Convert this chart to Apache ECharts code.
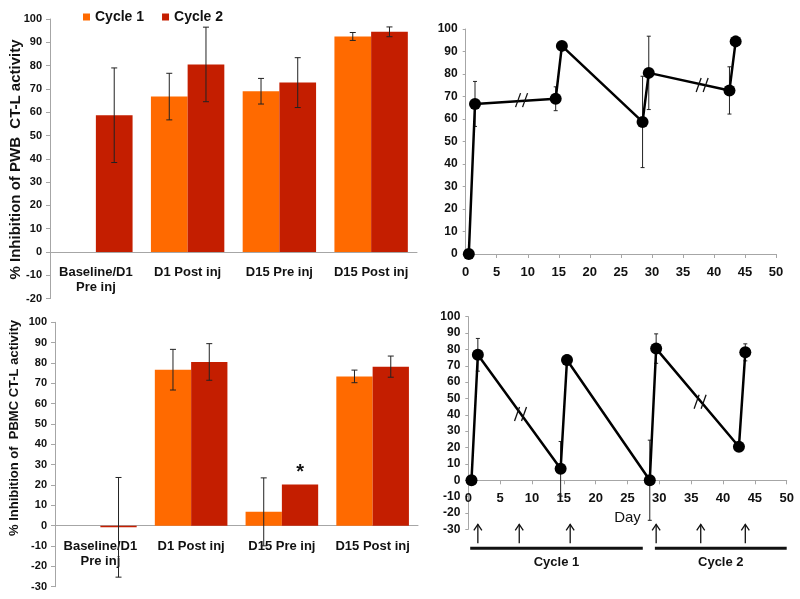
<!DOCTYPE html>
<html><head><meta charset="utf-8">
<script src="https://cdn.jsdelivr.net/npm/echarts@6/dist/echarts.min.js"></script>
<style>html,body{margin:0;padding:0;background:#fff}#c{width:800px;height:599px}</style>
</head><body><div id="c"></div>
<script>
// ---------- data ----------
const categories = ['Baseline/D1\nPre inj', 'D1 Post inj', 'D15 Pre inj', 'D15 Post inj'];
const seriesNames = ['Cycle 1', 'Cycle 2'];

const pwbCycle1 = [null, 66.7, 69.0, 92.5];
const pwbCycle1Err = [null, 10.0, 5.5, 1.7];
const pwbCycle2 = [58.7, 80.5, 72.7, 94.5];
const pwbCycle2Err = [20.3, 16.0, 10.7, 2.1];

const pbmcCycle1 = [null, 76.7, 6.8, 73.4];
const pbmcCycle1Err = [null, 10.0, 16.7, 3.1];
const pbmcCycle2 = [-0.8, 80.5, 20.3, 78.2];
const pbmcCycle2Err = [24.5, 9.0, null, 5.2];
const pbmcStarIndex = 2;

const pwbDays = [0.5, 1.5, 14.5, 15.5, 28.5, 29.5, 42.5, 43.5];
const pwbMeans = [0, 66.7, 69.0, 92.5, 58.7, 80.5, 72.7, 94.5];
const pwbErr = [null, 10.0, 5.3, 1.7, 20.3, 16.3, 10.5, 2.3];
const pwbBreaks = [[9.0, 68.4], [38.1, 75.1]];

const pbmcDays = [0.5, 1.5, 14.5, 15.5, 28.5, 29.5, 42.5, 43.5];
const pbmcMeans = [0, 76.7, 7.0, 73.5, 0, 80.5, 20.5, 78.2];
const pbmcErr = [null, 10.0, 16.7, 3.1, 24.5, 9.0, null, 5.2];
const pbmcBreaks = [[8.2, 40.5], [36.4, 48.0]];

const injectionDays = [1.5, 8, 16, 29.5, 36.5, 43.5];
const cycleNames = ['Cycle 1', 'Cycle 2'];
const cycleStart = [0.3, 29.3];
const cycleEnd = [27.4, 50];

const yTicksBarTop = { min: -20, max: 100, interval: 10 };
const yTicksBarBottom = { min: -30, max: 100, interval: 10 };
const yTicksLineTop = { min: 0, max: 100, interval: 10 };
const yTicksLineBottom = { min: -30, max: 100, interval: 10 };
const xTicksLine = { min: 0, max: 50, interval: 5 };

// ---------- styles ----------
const C1 = '#FF6A00', C2 = '#C41E00';
const FONT = 'Liberation Sans, Arial, sans-serif';
const axisGray = '#A6A6A6';

function barErrData(vals, errs, slot) {
  const out = [];
  vals.forEach((v, i) => { if (v != null && errs[i] != null) out.push([i, v, errs[i], slot]); });
  return out;
}
function barErrRender(params, api) {
  const idx = api.value(0), v = api.value(1), e = api.value(2), slot = api.value(3);
  const c = api.coord([idx, v]);
  const band = api.size([1, 0])[0];
  const bw = band * 0.8 / 2;
  const x = c[0] + (slot === 0 ? -bw / 2 : bw / 2);
  const yt = api.coord([idx, v + e])[1], yb = api.coord([idx, v - e])[1];
  const st = { stroke: '#222', lineWidth: 1 };
  return { type: 'group', children: [
    { type: 'line', shape: { x1: x, y1: yt, x2: x, y2: yb }, style: st },
    { type: 'line', shape: { x1: x - 3, y1: yt, x2: x + 3, y2: yt }, style: st },
    { type: 'line', shape: { x1: x - 3, y1: yb, x2: x + 3, y2: yb }, style: st }
  ]};
}
function lineErrData(days, vals, errs) {
  const out = [];
  days.forEach((d, i) => { if (errs[i] != null) out.push([d, vals[i], errs[i]]); });
  return out;
}
function lineErrRender(params, api) {
  const d = api.value(0), v = api.value(1), e = api.value(2);
  const x = api.coord([d, v])[0];
  const yt = api.coord([d, v + e])[1], yb = api.coord([d, v - e])[1];
  const st = { stroke: '#222', lineWidth: 1 };
  return { type: 'group', children: [
    { type: 'line', shape: { x1: x, y1: yt, x2: x, y2: yb }, style: st },
    { type: 'line', shape: { x1: x - 2, y1: yt, x2: x + 2, y2: yt }, style: st },
    { type: 'line', shape: { x1: x - 2, y1: yb, x2: x + 2, y2: yb }, style: st }
  ]};
}
function breakRender(params, api) {
  const c = api.coord([api.value(0), api.value(1)]);
  const st = { stroke: '#111', lineWidth: 1.3 };
  return { type: 'group', children: [
    { type: 'line', shape: { x1: c[0] - 6, y1: c[1] + 7, x2: c[0] - 1, y2: c[1] - 7 }, style: st },
    { type: 'line', shape: { x1: c[0] + 1, y1: c[1] + 7, x2: c[0] + 6, y2: c[1] - 7 }, style: st }
  ]};
}
function arrowRender(params, api) {
  const c = api.coord([api.value(0), -30]);
  const st = { stroke: '#111', lineWidth: 1.3, fill: null };
  const top = c[1] - 5, bot = c[1] + 14;
  return { type: 'group', children: [
    { type: 'line', shape: { x1: c[0], y1: top, x2: c[0], y2: bot }, style: st },
    { type: 'polyline', shape: { points: [[c[0] - 4, top + 6], [c[0], top], [c[0] + 4, top + 6]] }, style: st }
  ]};
}
function cycleRender(params, api) {
  const a = api.coord([api.value(0), -30]);
  const b = api.coord([api.value(1), -30]);
  const name = cycleNames[params.dataIndex];
  return { type: 'group', children: [
    { type: 'line', shape: { x1: a[0], y1: a[1] + 19, x2: b[0], y2: b[1] + 19 }, style: { stroke: '#111', lineWidth: 3 } },
    { type: 'text', style: { text: name, x: (a[0] + b[0]) / 2, y: a[1] + 33, textAlign: 'center', textVerticalAlign: 'middle', font: 'bold 13px ' + FONT, fill: '#111' } }
  ]};
}

const barLabel = { color: '#111', fontWeight: 'bold', fontSize: 13, fontFamily: FONT, margin: 13, lineHeight: 15, interval: 0 };
const yLabelSmall = { color: '#111', fontWeight: 'bold', fontSize: 11, fontFamily: FONT, margin: 8 };
const yLabelLine = { color: '#111', fontWeight: 'bold', fontSize: 12, fontFamily: FONT, margin: 8 };
const xLabelLine = { color: '#111', fontWeight: 'bold', fontSize: 13, fontFamily: FONT, margin: 12 };

const option = {
  animation: false,
  backgroundColor: '#fff',
  legend: {
    data: seriesNames, left: 78, top: 5, icon: 'rect', itemWidth: 7, itemHeight: 7, itemGap: 18,
    textStyle: { fontSize: 14, fontWeight: 'bold', fontFamily: FONT, color: '#111' }
  },
  graphic: [
    { type: 'text', x: 16, y: 159.5, rotation: Math.PI / 2, style: { text: '% Inhibition of PWB  CT-L activity', font: 'bold 15px ' + FONT, textAlign: 'center', textVerticalAlign: 'middle', fill: '#111' } },
    { type: 'text', x: 14, y: 428, rotation: Math.PI / 2, style: { text: '% Inhibition of  PBMC CT-L activity', font: 'bold 13px ' + FONT, textAlign: 'center', textVerticalAlign: 'middle', fill: '#111' } }
  ],
  grid: [
    { left: 50, top: 19, width: 367, height: 279.6 },
    { left: 465.7, top: 29, width: 310.3, height: 225 },
    { left: 55, top: 322.3, width: 363, height: 264.4 },
    { left: 468.3, top: 316.7, width: 318.4, height: 212.6 }
  ],
  xAxis: [
    { gridIndex: 0, type: 'category', data: categories, axisLine: { onZero: false, lineStyle: { color: axisGray } }, offset: -46.6, axisTick: { show: false }, axisLabel: barLabel },
    { gridIndex: 1, type: 'value', min: xTicksLine.min, max: xTicksLine.max, interval: xTicksLine.interval, axisLine: { lineStyle: { color: axisGray } }, axisTick: { show: true, length: 4, lineStyle: { color: axisGray } }, splitLine: { show: false }, axisLabel: xLabelLine },
    { gridIndex: 2, type: 'category', data: categories, axisLine: { onZero: false, lineStyle: { color: axisGray } }, offset: -61, axisTick: { show: false }, axisLabel: barLabel },
    { gridIndex: 3, type: 'value', min: xTicksLine.min, max: xTicksLine.max, interval: xTicksLine.interval, name: 'Day', nameLocation: 'middle', nameGap: 30,
      nameTextStyle: { fontSize: 15, fontFamily: FONT, color: '#111' }, offset: -49,
      axisLine: { onZero: false, lineStyle: { color: axisGray } }, axisTick: { show: true, length: 4, lineStyle: { color: axisGray } }, splitLine: { show: false }, axisLabel: xLabelLine }
  ],
  yAxis: [
    { gridIndex: 0, type: 'value', min: yTicksBarTop.min, max: yTicksBarTop.max, interval: yTicksBarTop.interval, axisLine: { show: true, lineStyle: { color: axisGray } }, axisTick: { show: true, length: 4, lineStyle: { color: axisGray } }, splitLine: { show: false }, axisLabel: yLabelSmall },
    { gridIndex: 1, type: 'value', min: yTicksLineTop.min, max: yTicksLineTop.max, interval: yTicksLineTop.interval, axisLine: { show: true, lineStyle: { color: axisGray } }, axisTick: { show: true, length: 3, lineStyle: { color: axisGray } }, splitLine: { show: false }, axisLabel: yLabelLine },
    { gridIndex: 2, type: 'value', min: yTicksBarBottom.min, max: yTicksBarBottom.max, interval: yTicksBarBottom.interval, axisLine: { show: true, lineStyle: { color: axisGray } }, axisTick: { show: true, length: 4, lineStyle: { color: axisGray } }, splitLine: { show: false }, axisLabel: yLabelSmall },
    { gridIndex: 3, type: 'value', min: yTicksLineBottom.min, max: yTicksLineBottom.max, interval: yTicksLineBottom.interval, axisLine: { show: true, lineStyle: { color: axisGray } }, axisTick: { show: true, length: 3, lineStyle: { color: axisGray } }, splitLine: { show: false }, axisLabel: yLabelLine }
  ],
  series: [
    { name: seriesNames[0], type: 'bar', xAxisIndex: 0, yAxisIndex: 0, data: pwbCycle1.map(v => v == null ? '-' : v), itemStyle: { color: C1 }, barGap: '0%', barCategoryGap: '20%' },
    { name: seriesNames[1], type: 'bar', xAxisIndex: 0, yAxisIndex: 0, data: pwbCycle2.map(v => v == null ? '-' : v), itemStyle: { color: C2 }, barGap: '0%', barCategoryGap: '20%' },
    { type: 'custom', xAxisIndex: 0, yAxisIndex: 0, renderItem: barErrRender, data: barErrData(pwbCycle1, pwbCycle1Err, 0).concat(barErrData(pwbCycle2, pwbCycle2Err, 1)), z: 5, silent: true },

    { name: seriesNames[0], type: 'bar', xAxisIndex: 2, yAxisIndex: 2, data: pbmcCycle1.map(v => v == null ? '-' : v), itemStyle: { color: C1 }, barGap: '0%', barCategoryGap: '20%' },
    { name: seriesNames[1], type: 'bar', xAxisIndex: 2, yAxisIndex: 2, itemStyle: { color: C2 }, barGap: '0%', barCategoryGap: '20%',
      data: pbmcCycle2.map((v, i) => i === pbmcStarIndex ? { value: v, label: { show: true, position: 'top', formatter: '*', distance: 2, fontSize: 20, fontWeight: 'bold', color: '#111', fontFamily: FONT } } : v) },
    { type: 'custom', xAxisIndex: 2, yAxisIndex: 2, renderItem: barErrRender, data: barErrData(pbmcCycle1, pbmcCycle1Err, 0).concat(barErrData(pbmcCycle2, pbmcCycle2Err, 1)), z: 5, silent: true },

    { type: 'custom', xAxisIndex: 1, yAxisIndex: 1, renderItem: lineErrRender, data: lineErrData(pwbDays, pwbMeans, pwbErr), z: 1, silent: true },
    { type: 'line', xAxisIndex: 1, yAxisIndex: 1, data: pwbDays.map((d, i) => [d, pwbMeans[i]]), symbol: 'circle', symbolSize: 12, itemStyle: { color: '#000' }, lineStyle: { color: '#000', width: 2.5 }, z: 3 },
    { type: 'custom', xAxisIndex: 1, yAxisIndex: 1, renderItem: breakRender, data: pwbBreaks, z: 4, silent: true },

    { type: 'custom', xAxisIndex: 3, yAxisIndex: 3, renderItem: lineErrRender, data: lineErrData(pbmcDays, pbmcMeans, pbmcErr), z: 1, silent: true },
    { type: 'line', xAxisIndex: 3, yAxisIndex: 3, data: pbmcDays.map((d, i) => [d, pbmcMeans[i]]), symbol: 'circle', symbolSize: 12, itemStyle: { color: '#000' }, lineStyle: { color: '#000', width: 2.5 }, z: 3 },
    { type: 'custom', xAxisIndex: 3, yAxisIndex: 3, renderItem: breakRender, data: pbmcBreaks, z: 4, silent: true },
    { type: 'custom', xAxisIndex: 3, yAxisIndex: 3, renderItem: arrowRender, data: injectionDays.map(d => [d, -30]), clip: false, z: 4, silent: true },
    { type: 'custom', xAxisIndex: 3, yAxisIndex: 3, renderItem: cycleRender, data: cycleStart.map((s, i) => [s, cycleEnd[i]]), clip: false, z: 4, silent: true }
  ]
};
const chart = echarts.init(document.getElementById('c'), null, { renderer: 'canvas' });
chart.setOption(option);
</script></body></html>
